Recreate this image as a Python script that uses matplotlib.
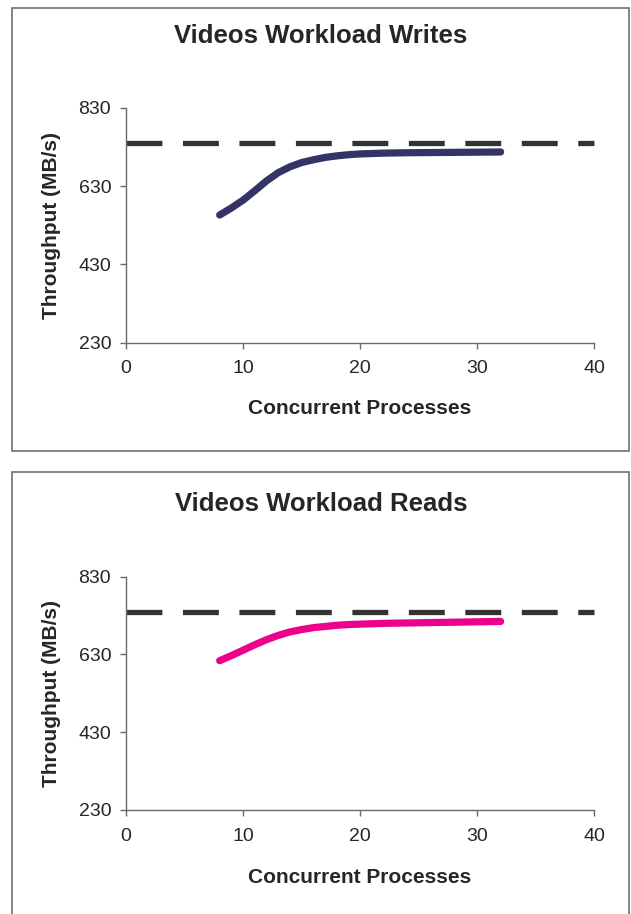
import numpy as np
import matplotlib
matplotlib.use("Agg")
import matplotlib.pyplot as plt
from matplotlib.patches import Rectangle

plt.rcParams['font.family'] = ['Liberation Sans', 'DejaVu Sans']

# concurrent processes
procs = [8, 9, 10, 11, 12, 13, 14, 15, 16, 17, 18, 19, 20, 22, 24, 28, 32]
# throughput in MB/s
writes = [556, 574, 594, 618, 643, 664, 679, 690, 697, 703, 707, 710, 712,
          714, 715, 716, 717]
reads = [614, 627, 641, 655, 668, 679, 688, 694, 699, 702, 705, 707, 708,
         710, 711, 713, 715]
# maximum throughput reference line
limit_x = [0, 40]
limit_y = [740, 740]

yticks = [230, 430, 630, 830]
xticks = [0, 10, 20, 30, 40]

W, H = 631, 914
fig = plt.figure(figsize=(W / 100, H / 100), dpi=100)

txt = '#262626'
spine = '#6a6a6a'


def fx(px):
    return px / W


def fy(py):
    return 1 - py / H


def panel(top, bottom, title, ys, color, box, title_y, xlabel_y):
    # outer frame
    x0, y0, x1, y1 = box
    fig.patches.append(Rectangle((fx(x0), fy(y1)), fx(x1 - x0), (y1 - y0) / H,
                                 transform=fig.transFigure, fill=False,
                                 edgecolor='#707070', linewidth=1.2))
    ax = fig.add_axes([fx(126), fy(bottom), fx(594.3 - 126), (bottom - top) / H])
    ax.plot(limit_x, limit_y, color='#333333', linewidth=3.8,
            dashes=(6.8, 3.9), dash_capstyle='butt', clip_on=False)
    ax.plot(procs, ys, color=color, linewidth=5.2, solid_capstyle='round',
            solid_joinstyle='round')
    ax.set_xlim(0, 40)
    ax.set_ylim(230, 830)
    ax.set_xticks(xticks)
    ax.set_yticks(yticks)
    for s in ['top', 'right']:
        ax.spines[s].set_visible(False)
    for s in ['left', 'bottom']:
        ax.spines[s].set_color(spine)
        ax.spines[s].set_linewidth(1.0)
    ax.tick_params(axis='both', colors=spine, labelcolor=txt, labelsize=14,
                   length=4.2, width=1.0, direction='out')
    ax.tick_params(axis='x', pad=8.5)
    ax.tick_params(axis='y', pad=6.5)
    fig.text(fx(321), fy(title_y), title, ha='center', va='center',
             fontsize=18.5, fontweight='bold', color=txt)
    fig.text(fx(360), fy(xlabel_y), 'Concurrent Processes', ha='center',
             va='center', fontsize=15, fontweight='bold', color=txt)
    fig.text(fx(52), fy((top + bottom) / 2), 'Throughput (MB/s)', ha='center',
             va='center', rotation=90, fontsize=15, fontweight='bold', color=txt)
    return ax


panel(107.7, 342.7, 'Videos Workload Writes', writes, '#333366',
      (12, 8, 629, 451), 36, 409)
panel(576.7, 810, 'Videos Workload Reads', reads, '#ec008c',
      (12, 472, 629, 930), 504, 877.5)

fig.savefig('out.png', dpi=100)
